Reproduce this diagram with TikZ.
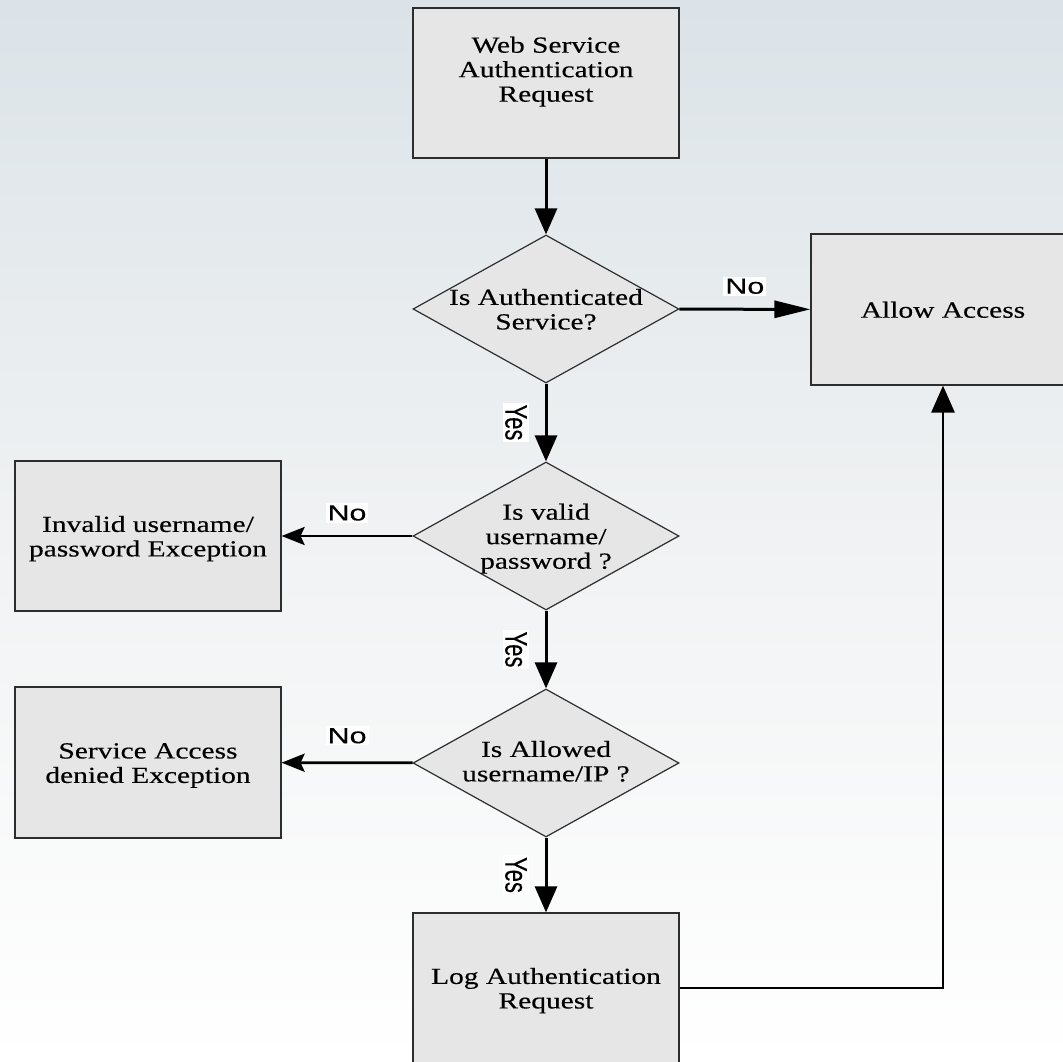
\documentclass[tikz,border=0pt]{standalone}
\usepackage{fontspec}
\setmainfont{Liberation Serif}[FakeStretch=1.28,FakeBold=0.3]
\newfontfamily\lblw{Liberation Sans}[FakeStretch=1.38,FakeBold=0.3]
\newfontfamily\lbl{Liberation Sans}[FakeBold=0.3]
\usetikzlibrary{shapes.geometric,arrows.meta}
\definecolor{bgtop}{RGB}{219,227,232}
\definecolor{bgmid}{RGB}{240,242,243}
\definecolor{boxfill}{RGB}{230,230,230}
\definecolor{boxline}{RGB}{45,45,45}
\newcommand{\ctext}[2][0pt]{\smash{\makebox[0pt]{\raisebox{\dimexpr-9.5pt+#1\relax}{\begin{tabular}{@{}c@{}}#2\end{tabular}}}}}
\newcommand{\yeslbl}{\scalebox{1.42}[1]{\rotatebox{-90}{\lbl\fontsize{22}{24}\selectfont Yes}}}
\tikzset{
  procbox/.style={rectangle, draw=boxline, line width=1.2pt, fill=boxfill,
    minimum width=266pt, minimum height=150pt, inner sep=0pt,
    font=\fontsize{23}{24.5}\selectfont},
  decbox/.style={diamond, draw=boxline, line width=1.2pt, fill=boxfill,
    minimum width=266pt, minimum height=148pt, inner sep=0pt,
    font=\fontsize{23}{24.5}\selectfont},
  downarr/.style={line width=3pt, -{Triangle[length=26pt,width=22pt]}},
  rightarr/.style={line width=3pt, -{Triangle[length=36pt,width=17pt]}},
  leftarr/.style={line width=2.8pt, -{Stealth[length=23pt,width=18pt,inset=4pt]}},
  uparr/.style={line width=2.8pt, -{Triangle[length=27pt,width=23pt]}},
  nolbl/.style={fill=white, inner sep=2pt, font=\lblw\fontsize{22}{24}\selectfont},
  yesbg/.style={fill=white, inner sep=2pt},
}
\begin{document}
\begin{tikzpicture}[x=1pt,y=-1pt]
\useasboundingbox (0,0) rectangle (1063,1062);
\clip (0,0) rectangle (1063,1062);
\fill[top color=bgtop, bottom color=white, middle color=bgmid] (0,0) rectangle (1063,1062);

\node[procbox] (req) at (546,83) {\ctext[14pt]{Web Service\\Authentication\\Request}};
\node[decbox] (d1) at (546,309) {\ctext{Is Authenticated\\Service?}};
\node[procbox, minimum width=264pt, minimum height=151pt] (allow) at (943,309.5) {\ctext{Allow Access}};
\node[decbox] (d2) at (546,536) {\ctext{Is valid\\username/\\password ?}};
\node[procbox] (inval) at (148,536) {\ctext{Invalid username/\\password Exception}};
\node[decbox] (d3) at (546,763) {\ctext[2pt]{Is Allowed\\username/IP ?}};
\node[procbox, minimum height=151pt] (deny) at (148,762.5) {\ctext{Service Access\\denied Exception}};
\node[procbox] (log) at (546,988) {\ctext{Log Authentication\\Request}};

\draw[downarr] (req) -- (d1);
\draw[rightarr] (d1) -- node[nolbl, midway, yshift=23pt] (no1) {No} (allow);
\draw[downarr] (d1) -- node[yesbg, midway, xshift=-30pt] (yes1) {\yeslbl} (d2);
\draw[leftarr] (d2) -- node[nolbl, midway, yshift=23pt] (no2) {No} (inval);
\draw[downarr] (d2) -- node[yesbg, midway, xshift=-30pt] (yes2) {\yeslbl} (d3);
\draw[leftarr] (d3) -- node[nolbl, midway, yshift=27pt] (no3) {No} (deny);
\draw[downarr] (d3) -- node[yesbg, midway, xshift=-30pt] (yes3) {\yeslbl} (log);
\draw[uparr] (log.east) -| (allow.south);
\end{tikzpicture}
\end{document}
